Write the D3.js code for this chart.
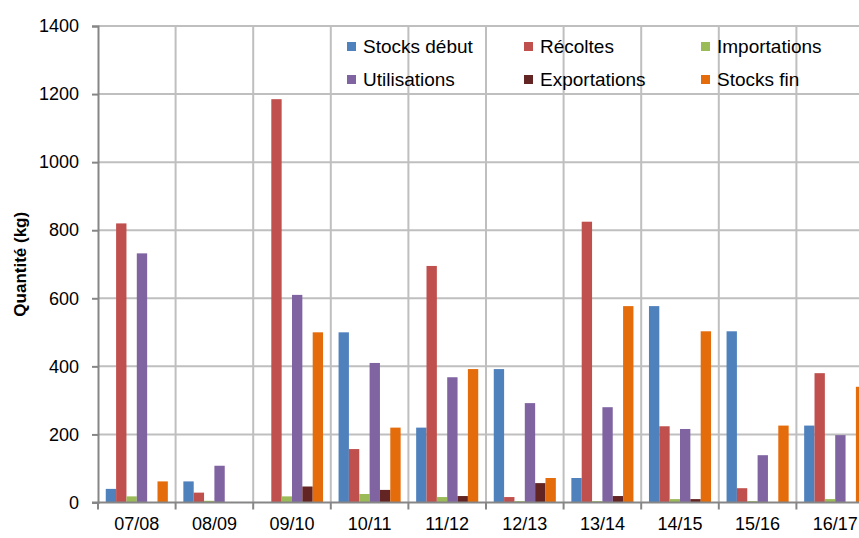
<!DOCTYPE html>
<html>
<head>
<meta charset="utf-8">
<script src="https://cdn.jsdelivr.net/npm/d3@7"></script>
<style>
body { margin: 0; background: #fff; }
svg { display: block; }
</style>
</head>
<body>
<script>
var w = 859;
var h = 538;

// data
var categories = ["07/08", "08/09", "09/10", "10/11", "11/12", "12/13", "13/14", "14/15", "15/16", "16/17"];
var seriesNames = ["Stocks début", "Récoltes", "Importations", "Utilisations", "Exportations", "Stocks fin"];
var stocksDebut  = [40, 62, 0, 500, 220, 392, 72, 577, 503, 226];
var recoltes     = [820, 29, 1185, 157, 695, 16, 825, 224, 42, 380];
var importations = [18, 5, 18, 25, 16, 4, 4, 10, 4, 10];
var utilisations = [732, 108, 610, 410, 368, 292, 280, 216, 139, 198];
var exportations = [0, 0, 47, 37, 19, 57, 19, 10, 0, 0];
var stocksFin    = [62, 0, 500, 220, 392, 72, 577, 503, 226, 340];
var yTicks = [0, 200, 400, 600, 800, 1000, 1200, 1400];

var seriesValues = [stocksDebut, recoltes, importations, utilisations, exportations, stocksFin];
var colors = ["#4F81BD", "#C0504D", "#9BBB59", "#8064A2", "#632523", "#E46C0A"];

var svg = d3.select("body").append("svg").attr("width", w).attr("height", h);

var left = 98, step = 77.6, plotTop = 26, plotBottom = 502.5;
var x0 = d3.scaleBand().domain(categories).range([left, left + step * categories.length]).padding(0);
var bw = x0.bandwidth();
var x1 = d3.scaleBand().domain(d3.range(seriesNames.length)).range([bw * 0.1, bw * 0.9]).padding(0);
var y = d3.scaleLinear().domain([0, 1400]).range([plotBottom, plotTop]);
var font = "'Liberation Sans', Arial, sans-serif";

// horizontal gridlines
svg.append("g").selectAll("line").data(yTicks.filter(function(d) { return d > 0; })).enter().append("line")
    .attr("x1", left).attr("x2", w)
    .attr("y1", function(d) { return y(d); }).attr("y2", function(d) { return y(d); })
    .attr("stroke", "#BFBFBF").attr("stroke-width", 2);

// vertical gridlines at category boundaries
svg.append("g").selectAll("line").data(categories.slice(1)).enter().append("line")
    .attr("x1", function(d) { return x0(d); }).attr("x2", function(d) { return x0(d); })
    .attr("y1", plotTop).attr("y2", plotBottom)
    .attr("stroke", "#BFBFBF").attr("stroke-width", 2);

// legend (no background, gridlines show through)
var legend = svg.append("g");
var legX = [347, 524, 701];
var legY = [47, 80];
seriesNames.forEach(function(name, i) {
    var lx = legX[i % 3], ly = legY[Math.floor(i / 3)];
    legend.append("rect").attr("x", lx).attr("y", ly - 5).attr("width", 9).attr("height", 9).attr("fill", colors[i]);
    legend.append("text").attr("x", lx + 16).attr("y", ly + 6)
        .attr("font-family", font).attr("font-size", "19px").attr("fill", "#000").text(name);
});

// bars
var groups = svg.append("g").selectAll("g").data(categories).enter().append("g")
    .attr("transform", function(d) { return "translate(" + x0(d) + ",0)"; });
groups.selectAll("rect").data(function(d, ci) {
        return seriesValues.map(function(vals, si) { return {s: si, v: vals[ci]}; });
    }).enter().append("rect")
    .attr("x", function(d) { return x1(d.s); })
    .attr("width", x1.bandwidth())
    .attr("y", function(d) { return y(d.v); })
    .attr("height", function(d) { return y(0) - y(d.v); })
    .attr("fill", function(d) { return colors[d.s]; });

// y axis
var yA = d3.axisLeft(y).tickValues(yTicks).tickFormat(d3.format("d")).tickSize(6).tickPadding(13);
var gy = svg.append("g").attr("transform", "translate(" + left + ",0)").call(yA);
gy.select(".domain").attr("stroke", "#868686").attr("stroke-width", 2);
gy.selectAll(".tick line").attr("stroke", "#868686").attr("stroke-width", 2);
gy.selectAll("text").attr("font-family", font).attr("font-size", "18px").attr("fill", "#000");

// x axis line and boundary ticks
svg.append("line").attr("x1", left - 6).attr("x2", w).attr("y1", plotBottom).attr("y2", plotBottom)
    .attr("stroke", "#868686").attr("stroke-width", 2);
svg.append("g").selectAll("line").data(categories).enter().append("line")
    .attr("x1", function(d) { return x0(d); }).attr("x2", function(d) { return x0(d); })
    .attr("y1", plotBottom).attr("y2", plotBottom + 7)
    .attr("stroke", "#868686").attr("stroke-width", 2);

var xA = d3.axisBottom(x0).tickSize(0).tickPadding(15);
var gx = svg.append("g").attr("transform", "translate(0," + plotBottom + ")").call(xA);
gx.select(".domain").remove();
gx.selectAll("text").attr("font-family", font).attr("font-size", "18px").attr("fill", "#000");

// y axis title
svg.append("text")
    .attr("transform", "translate(26," + ((plotTop + plotBottom) / 2) + ") rotate(-90)")
    .attr("text-anchor", "middle")
    .attr("font-family", font).attr("font-size", "17px").attr("font-weight", "bold")
    .text("Quantité (kg)");
</script>
</body>
</html>
